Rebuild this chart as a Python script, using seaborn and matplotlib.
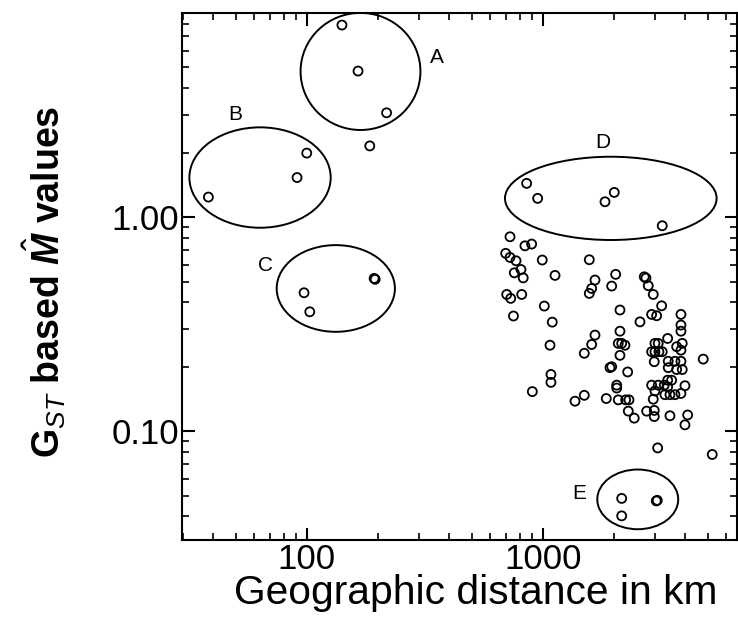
import numpy as np
import pandas as pd
import matplotlib.pyplot as plt
import seaborn as sns
from matplotlib.patches import Ellipse
from matplotlib.ticker import LogLocator, NullFormatter, FixedLocator, FixedFormatter

sns.set_style('ticks')
plt.rcParams['font.family'] = ['Liberation Sans', 'DejaVu Sans']
plt.rcParams['text.color'] = 'black'
plt.rcParams['axes.labelcolor'] = 'black'
plt.rcParams['mathtext.fontset'] = 'custom'
plt.rcParams['mathtext.rm'] = 'Liberation Sans'
plt.rcParams['mathtext.it'] = 'Liberation Sans:italic'
plt.rcParams['mathtext.bf'] = 'Liberation Sans:bold'
plt.rcParams['mathtext.bfit'] = 'Liberation Sans:bold:italic'

# pairwise geographic distance (km) and Gst based Nm estimates
distance = [
    141, 165, 218, 185,
    100, 91, 38.3,
    97.4, 103, 193, 195,
    855, 952, 1837, 2011, 3212,
    2162, 2162, 3030, 3060,
    727, 841, 898, 697, 727, 771, 996, 1576, 809, 758,
    827, 1128, 1666, 1613, 1576, 704, 732, 815, 1016, 752,
    1098, 1666, 2039, 1961, 2695, 2740, 2802, 2942, 3193, 2126,
    2896, 3041, 3855, 2585, 3855, 2126, 3855, 3386, 1074, 1501,
    1613, 1928, 1084, 1084, 904, 1371, 1501, 1860, 2091, 2162,
    2233, 2126, 1961, 2292, 2991, 3088, 2896, 2991, 3110, 3212,
    2971, 3697, 3904, 3855, 3406, 3636, 3855, 3406, 3697, 3904,
    4792, 2059, 2059, 2091, 2248, 2322, 2896, 3088, 3275, 3386,
    3521, 3386, 4009, 2991, 3297, 3463, 3636, 3855, 2942, 2306,
    2444, 2758, 2971, 2971, 3463, 4116, 4009, 3071, 5232,
]
nm_values = [
    7.89, 4.81, 3.07, 2.15,
    1.99, 1.53, 1.24,
    0.443, 0.361, 0.517, 0.512,
    1.437, 1.223, 1.179, 1.304, 0.911,
    0.0485, 0.0402, 0.0472, 0.0475,
    0.809, 0.734, 0.748, 0.677, 0.648, 0.625, 0.630, 0.632, 0.569, 0.549,
    0.520, 0.534, 0.508, 0.464, 0.440, 0.435, 0.417, 0.435, 0.384, 0.345,
    0.323, 0.281, 0.540, 0.476, 0.526, 0.519, 0.478, 0.435, 0.385, 0.368,
    0.351, 0.346, 0.351, 0.324, 0.313, 0.293, 0.293, 0.271, 0.252, 0.231,
    0.254, 0.198, 0.184, 0.169, 0.153, 0.138, 0.147, 0.142, 0.257, 0.257,
    0.252, 0.226, 0.200, 0.189, 0.257, 0.257, 0.235, 0.235, 0.235, 0.235,
    0.211, 0.248, 0.257, 0.239, 0.212, 0.212, 0.212, 0.198, 0.194, 0.194,
    0.217, 0.164, 0.159, 0.140, 0.140, 0.140, 0.164, 0.164, 0.164, 0.173,
    0.173, 0.161, 0.163, 0.154, 0.148, 0.148, 0.148, 0.150, 0.141, 0.124,
    0.115, 0.124, 0.125, 0.117, 0.118, 0.119, 0.107, 0.0835, 0.0778,
]

# groups: label, centre (km, Nm), size in decades (x, y), label position
group_names = ['A', 'B', 'C', 'D', 'E']
group_centre_x = [169, 63.4, 132.8, 1944, 2529]
group_centre_y = [4.79, 1.53, 0.464, 1.223, 0.048]
group_width_dec = [0.508, 0.599, 0.501, 0.897, 0.343]
group_height_dec = [0.547, 0.469, 0.405, 0.389, 0.279]
label_x = [356, 49.7, 66.6, 1801, 1429]
label_y = [5.59, 3.00, 0.597, 2.22, 0.0511]

df = pd.DataFrame({'distance': distance, 'nm': nm_values})

fig = plt.figure(figsize=(7.38, 6.2), dpi=100)
ax = fig.add_axes([0.2466, 0.129, 0.752, 0.850])

sns.scatterplot(data=df, x='distance', y='nm', ax=ax, marker='o', s=42,
                facecolors='none', edgecolors='black', linewidth=1.3, zorder=3)

ax.set_xscale('log')
ax.set_yscale('log')
ax.set_xlim(29.6, 6660)
ax.set_ylim(0.031, 8.98)

# ellipses drawn in log10 space so they look round on the page
tr = ax.transLimits + ax.transAxes
for i, name in enumerate(group_names):
    e = Ellipse((np.log10(group_centre_x[i]), np.log10(group_centre_y[i])),
                group_width_dec[i], group_height_dec[i],
                transform=tr, fill=False, edgecolor='black', lw=1.4, zorder=2)
    ax.add_patch(e)
    ax.text(label_x[i], label_y[i], name, fontsize=15, ha='center', va='center',
            color='black')

ax.xaxis.set_major_locator(FixedLocator([100, 1000]))
ax.xaxis.set_major_formatter(FixedFormatter(['100', '1000']))
ax.yaxis.set_major_locator(FixedLocator([0.1, 1.0]))
ax.yaxis.set_major_formatter(FixedFormatter(['0.10', '1.00']))
ax.xaxis.set_minor_locator(LogLocator(base=10, subs=np.arange(2, 10)))
ax.yaxis.set_minor_locator(LogLocator(base=10, subs=np.arange(2, 10)))
ax.xaxis.set_minor_formatter(NullFormatter())
ax.yaxis.set_minor_formatter(NullFormatter())

ax.tick_params(which='both', direction='in', top=True, right=True,
               colors='black', labelcolor='black')
ax.tick_params(which='major', length=9, width=1.5, labelsize=25, pad=2)
ax.tick_params(which='minor', length=5, width=1.2)
for sp in ax.spines.values():
    sp.set_linewidth(1.5)
    sp.set_color('black')

ax.set_xlabel('Geographic distance in km', fontsize=29.3)
ax.xaxis.set_label_coords(0.53, -0.064)
ax.set_ylabel(r'$\mathbf{G}_{\mathit{ST}}$ based $\hat{\mathbfit{M}}$ values',
              fontsize=27, fontweight='bold')
ax.yaxis.set_label_coords(-0.205, 0.49)

fig.savefig('out.png', dpi=100)
